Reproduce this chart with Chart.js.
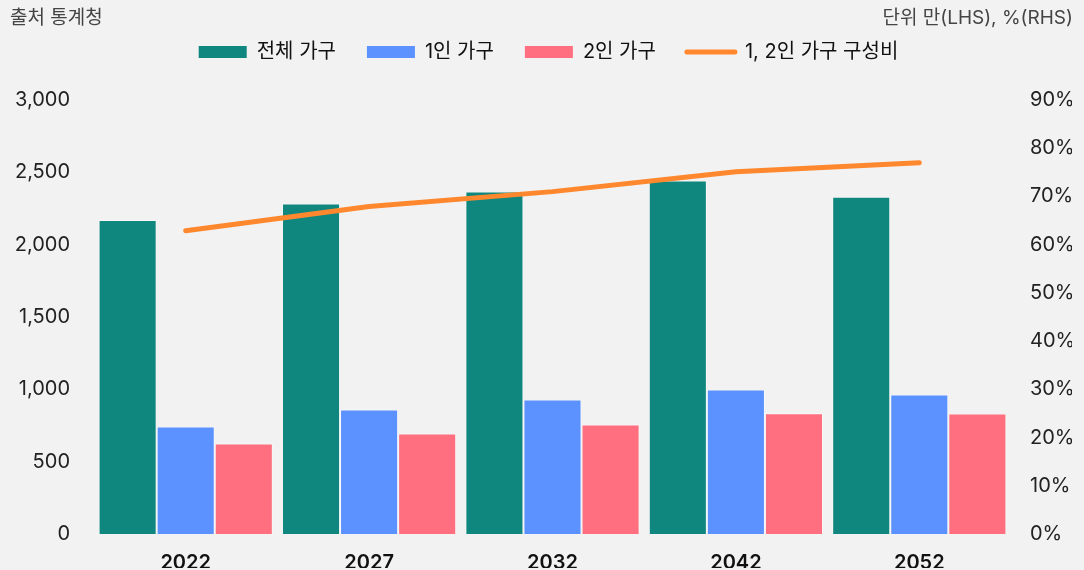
<!DOCTYPE html>
<html>
<head>
<meta charset="utf-8">
<script src="https://cdn.jsdelivr.net/npm/chart.js@4/dist/chart.umd.min.js"></script>
<style>
  html, body { margin: 0; padding: 0; background: #f2f2f2; }
  #wrap { position: relative; width: 1084px; height: 570px; background: #f2f2f2; overflow: hidden; }
  canvas { position: absolute; left: 0; top: 0; }
  .note { position: absolute; top: 8px; font-family: Inter, "Noto Sans CJK KR", sans-serif; font-size: 19px; line-height: 19px; color: #444; white-space: nowrap; }
  #src { left: 10px; }
  #unit { right: 11px; }
</style>
</head>
<body>
<div id="wrap">
  <canvas id="c" width="1084" height="570"></canvas>
  <div class="note" id="src">출처 통계청</div>
  <div class="note" id="unit">단위 만(LHS), %(RHS)</div>
</div>
<script>
const categories = ['2022', '2027', '2032', '2042', '2052'];
const totalHouseholds = [2170, 2285, 2368, 2443, 2331];
const oneHouseholds = [743, 860, 930, 998, 965];
const twoHouseholds = [626, 695, 757, 834, 833];
const shareRatio = [62.9, 67.9, 71.0, 75.1, 77.0];
const leftTicks = [0, 500, 1000, 1500, 2000, 2500, 3000];
const rightTicks = [0, 10, 20, 30, 40, 50, 60, 70, 80, 90];
const seriesNames = ['전체 가구', '1인 가구', '2인 가구', '1, 2인 가구 구성비'];

const FONT = 'Inter, "Noto Sans CJK KR", sans-serif';

const legendSpacer = {
  id: 'legendSpacer',
  beforeInit(chart) {
    const origFit = chart.legend.fit;
    chart.legend.fit = function () {
      origFit.bind(chart.legend)();
      this.height += 28;
    };
  },
  afterLayout(chart) {
    chart.legend.left += 9;
  }
};

new Chart(document.getElementById('c'), {
  type: 'bar',
  data: {
    labels: categories,
    datasets: [
      { label: seriesNames[0], data: totalHouseholds, backgroundColor: '#0f877e', borderColor: 'rgba(255,255,255,0.45)', borderWidth: 1, yAxisID: 'y', order: 2, pointStyle: 'rect' },
      { label: seriesNames[1], data: oneHouseholds, backgroundColor: '#5b92ff', borderColor: 'rgba(255,255,255,0.45)', borderWidth: 1, yAxisID: 'y', order: 2, pointStyle: 'rect' },
      { label: seriesNames[2], data: twoHouseholds, backgroundColor: '#ff6f7f', borderColor: 'rgba(255,255,255,0.45)', borderWidth: 1, yAxisID: 'y', order: 2, pointStyle: 'rect' },
      { type: 'line', label: seriesNames[3], data: shareRatio, borderColor: '#ff882e', backgroundColor: '#ff882e', borderWidth: 5, borderCapStyle: 'round', borderJoinStyle: 'round', pointRadius: 0, pointHoverRadius: 0, tension: 0, yAxisID: 'y1', order: 1, pointStyle: 'line' }
    ]
  },
  options: {
    responsive: false,
    animation: false,
    devicePixelRatio: 1,
    layout: { padding: { top: 11, left: 16, right: 12, bottom: 0 } },
    datasets: { bar: { categoryPercentage: 0.95, barPercentage: 1.0 } },
    plugins: {
      tooltip: { enabled: false },
      legend: {
        position: 'top',
        align: 'center',
        labels: {
          usePointStyle: true,
          pointStyleWidth: 48,
          boxHeight: 12,
          padding: 31,
          color: '#111',
          font: { family: FONT, size: 20 },
          sort: (a, b) => a.datasetIndex - b.datasetIndex,
          generateLabels(chart) {
            const items = Chart.defaults.plugins.legend.labels.generateLabels(chart);
            items.forEach(it => {
              const ds = chart.data.datasets[it.datasetIndex];
              if (ds.type === 'line') {
                it.lineWidth = 5;
                it.lineCap = 'round';
                it.strokeStyle = ds.borderColor;
              } else {
                it.lineWidth = 0;
                it.strokeStyle = 'rgba(0,0,0,0)';
              }
            });
            return items;
          }
        }
      }
    },
    scales: {
      x: {
        grid: { display: false, drawTicks: false },
        border: { display: false },
        afterFit(axis) { axis.height = 34; },
        ticks: { color: '#111', padding: 19, font: { family: FONT, size: 20, weight: '600', lineHeight: 1 } }
      },
      y: {
        position: 'left',
        min: 0, max: 3000,
        afterBuildTicks(axis) { axis.ticks = leftTicks.map(v => ({ value: v })); },
        afterFit(axis) { axis.width = 78; },
        grid: { display: false, drawTicks: false },
        border: { display: false },
        ticks: { color: '#222', padding: 24, font: { family: FONT, size: 20 }, callback: v => v.toLocaleString('en-US') }
      },
      y1: {
        position: 'right',
        min: 0, max: 90,
        afterBuildTicks(axis) { axis.ticks = rightTicks.map(v => ({ value: v })); },
        afterFit(axis) { axis.width = 61; },
        grid: { display: false, drawTicks: false },
        border: { display: false },
        ticks: { color: '#222', padding: 19, font: { family: FONT, size: 20 }, callback: v => v + '%' }
      }
    }
  },
  plugins: [legendSpacer]
});
</script>
</body>
</html>
